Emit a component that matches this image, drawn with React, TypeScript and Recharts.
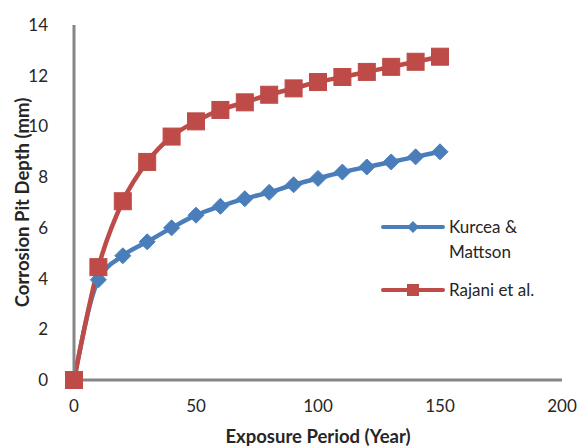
import React from "react";
import { LineChart, Line, XAxis, YAxis, Label } from "recharts";

const years = [0, 10, 20, 30, 40, 50, 60, 70, 80, 90, 100, 110, 120, 130, 140, 150];
const kurcea = [0, 3.95, 4.9, 5.45, 6.0, 6.5, 6.85, 7.15, 7.4, 7.7, 7.95, 8.2, 8.4, 8.6, 8.8, 9.0];
const rajani = [0, 4.45, 7.05, 8.6, 9.6, 10.2, 10.65, 10.95, 11.25, 11.5, 11.75, 11.95, 12.15, 12.35, 12.55, 12.75];
const xTicks = [0, 50, 100, 150, 200];
const yTicks = [0, 2, 4, 6, 8, 10, 12, 14];
const seriesNames = ["Kurcea & Mattson", "Rajani et al."];

const data = years.map((y, i) => ({ x: y, kurcea: kurcea[i], rajani: rajani[i] }));

const BLUE = "#4A7EBB";
const RED = "#BE4B48";
const FONT = "Lato, 'Liberation Sans', sans-serif";
const TXT = "#262626";

const Diamond = (props: any) => {
  const { cx, cy } = props;
  if (cx == null || cy == null) return null;
  const r = 8;
  return (
    <path
      d={`M${cx},${cy - r}L${cx + r},${cy}L${cx},${cy + r}L${cx - r},${cy}Z`}
      fill={BLUE}
      stroke={BLUE}
      strokeWidth={1}
    />
  );
};

const Square = (props: any) => {
  const { cx, cy } = props;
  if (cx == null || cy == null) return null;
  const s = 17;
  return <rect x={cx - s / 2} y={cy - s / 2} width={s} height={s} fill={RED} stroke={RED} strokeWidth={1} />;
};

const LegendIcon = ({ color, kind }: { color: string; kind: string }) => (
  <svg width={64} height={14} style={{ flex: "none", display: "block" }}>
    <line x1={2} y1={7} x2={62} y2={7} stroke={color} strokeWidth={4} strokeLinecap="round" />
    {kind === "diamond" ? (
      <path d="M32,1L38,7L32,13L26,7Z" fill={color} />
    ) : (
      <rect x={26} y={1} width={12} height={12} fill={color} />
    )}
  </svg>
);

export default function App() {
  return (
    <div style={{ position: "absolute", left: 0, top: 0, width: 577, height: 446, background: "#fff" }}>
      <LineChart width={577} height={446} data={data} margin={{ top: 25, right: 15, left: 0, bottom: 0 }}>
        <XAxis
          dataKey="x"
          type="number"
          domain={[0, 200]}
          ticks={xTicks}
          tickLine={false}
          axisLine={{ stroke: "#868686", strokeWidth: 3 }}
          tick={{ fill: TXT, fontSize: 17, fontFamily: FONT }}
          tickMargin={14}
          height={66}
        >
          <Label
            value="Exposure Period (Year)"
            position="insideBottom"
            offset={3}
            style={{ fontFamily: FONT, fontSize: 18.5, fontWeight: 700, fill: TXT }}
          />
        </XAxis>
        <YAxis
          type="number"
          domain={[0, 14]}
          ticks={yTicks}
          tickLine={false}
          axisLine={{ stroke: "#868686", strokeWidth: 3 }}
          tick={{ fill: TXT, fontSize: 17, fontFamily: FONT }}
          tickMargin={20}
          width={74}
        >
          <Label
            value="Corrosion Pit Depth (mm)"
            angle={-90}
            position="center"
            dx={-15}
            style={{ fontFamily: FONT, fontSize: 18.5, fontWeight: 700, fill: TXT, textAnchor: "middle" }}
          />
        </YAxis>
        <Line
          type="monotone"
          dataKey="kurcea"
          name={seriesNames[0]}
          stroke={BLUE}
          strokeWidth={4.5}
          dot={<Diamond />}
          activeDot={false}
          isAnimationActive={false}
        />
        <Line
          type="monotone"
          dataKey="rajani"
          name={seriesNames[1]}
          stroke={RED}
          strokeWidth={4.5}
          dot={<Square />}
          activeDot={false}
          isAnimationActive={false}
        />
      </LineChart>
      <div
        style={{
          position: "absolute",
          left: 381,
          top: 214,
          fontFamily: FONT,
          fontSize: 17,
          color: TXT,
          lineHeight: "25px",
        }}
      >
        <div style={{ display: "flex", alignItems: "flex-start" }}>
          <div style={{ marginTop: 6 }}>
            <LegendIcon color={BLUE} kind="diamond" />
          </div>
          <div style={{ width: 100, marginLeft: 4 }}>{seriesNames[0]}</div>
        </div>
        <div style={{ display: "flex", alignItems: "flex-start", marginTop: 13 }}>
          <div style={{ marginTop: 6 }}>
            <LegendIcon color={RED} kind="square" />
          </div>
          <div style={{ width: 110, marginLeft: 4 }}>{seriesNames[1]}</div>
        </div>
      </div>
    </div>
  );
}
